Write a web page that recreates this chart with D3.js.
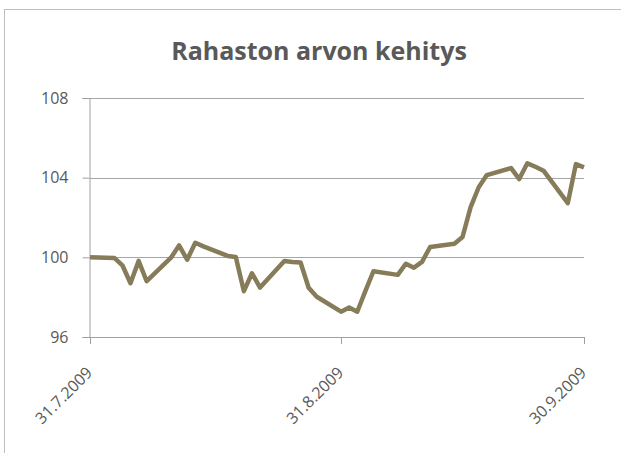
<!DOCTYPE html>
<html>
<head>
<meta charset="utf-8">
<script src="https://cdn.jsdelivr.net/npm/d3@7"></script>
<style>
    body { margin: 0; background: #fff; }
    svg { display: block; font-family: "Open Sans", "Noto Sans", sans-serif; }
</style>
</head>
<body>
<div id="chart"></div>
<script>
// Values (business days, fund value index)
let dates = ['31.7.2009', '3.8.2009', '4.8.2009', '5.8.2009', '6.8.2009', '7.8.2009',
    '10.8.2009', '11.8.2009', '12.8.2009', '13.8.2009', '14.8.2009', '17.8.2009',
    '18.8.2009', '19.8.2009', '20.8.2009', '21.8.2009', '24.8.2009', '25.8.2009',
    '26.8.2009', '27.8.2009', '28.8.2009', '31.8.2009', '1.9.2009', '2.9.2009',
    '3.9.2009', '4.9.2009', '7.9.2009', '8.9.2009', '9.9.2009', '10.9.2009',
    '11.9.2009', '14.9.2009', '15.9.2009', '16.9.2009', '17.9.2009', '18.9.2009',
    '21.9.2009', '22.9.2009', '23.9.2009', '24.9.2009', '25.9.2009', '28.9.2009',
    '29.9.2009', '30.9.2009'];
let values = [100.00, 99.97, 99.6, 98.7, 99.82, 98.8,
    99.98, 100.6, 99.88, 100.73, 100.55, 100.07,
    100.02, 98.3, 99.2, 98.48, 99.82, 99.77,
    99.74, 98.47, 98.02, 97.27, 97.48, 97.27,
    98.3, 99.3, 99.12, 99.68, 99.48, 99.77,
    100.52, 100.68, 101.02, 102.52, 103.52, 104.13,
    104.48, 103.93, 104.72, 104.55, 104.35, 102.72,
    104.68, 104.52];
let yTicks = [96, 100, 104, 108];
let xTickLabels = ['31.7.2009', '31.8.2009', '30.9.2009'];
let title = 'Rahaston arvon kehitys';

let parseDate = d3.timeParse('%d.%m.%Y');

let margin = { top: 98, right: 36, bottom: 116, left: 90 };
let width = 621 - margin.left - margin.right;   // 495
let height = 453 - margin.top - margin.bottom;  // 239

let root = d3.select('#chart')
    .append('svg')
    .attr('width', 621)
    .attr('height', 453);

// chart frame
root.append('rect')
    .attr('x', 4.5)
    .attr('y', 9.5)
    .attr('width', 640)
    .attr('height', 470)
    .style('fill', '#fff')
    .style('stroke', '#bfbfbf')
    .style('stroke-width', 1);

root.append('text')
    .text(title)
    .attr('x', 319)
    .attr('y', 60)
    .attr('text-anchor', 'middle')
    .style('font-size', '25px')
    .style('font-weight', 'bold')
    .style('fill', '#595959');

let svg = root.append('g')
    .attr('transform', `translate(${margin.left}, ${margin.top})`);

let data = dates.map((d, i) => ({ date: parseDate(d), value: values[i] }));

let x = d3.scaleTime()
    .domain(d3.extent(xTickLabels, d => parseDate(d)))
    .range([0, width - 1]);

let y = d3.scaleLinear()
    .domain([96, 108])
    .range([height, 0]);

// gridlines
svg.selectAll('.grid')
    .data(yTicks.slice(1))
    .enter()
    .append('line')
    .attr('class', 'grid')
    .attr('x1', 0)
    .attr('x2', width - 1)
    .attr('y1', d => Math.round(y(d)) + 0.5)
    .attr('y2', d => Math.round(y(d)) + 0.5)
    .style('stroke', '#a6a6a6')
    .style('stroke-width', 1);

// y axis
let yAxis = svg.append('g')
    .attr('transform', 'translate(-0.5, 0)')
    .call(d3.axisLeft(y).tickValues(yTicks).tickSize(7).tickPadding(14).tickFormat(d3.format('d')));

// x axis
let xAxis = svg.append('g')
    .attr('transform', `translate(0, ${height})`)
    .call(d3.axisBottom(x)
        .tickValues(xTickLabels.map(d => parseDate(d)))
        .tickSize(7)
        .tickFormat(d3.timeFormat('%-d.%-m.%Y')));

xAxis.selectAll('text')
    .attr('text-anchor', 'end')
    .attr('x', -24)
    .attr('y', 28)
    .attr('dy', 0)
    .attr('transform', 'rotate(-45)');

[yAxis, xAxis].forEach(a => {
    a.select('.domain').style('stroke', '#a0a0a0');
    a.selectAll('.tick line').style('stroke', '#a0a0a0');
    a.selectAll('text')
        .style('font-family', '"Open Sans", "Noto Sans", sans-serif')
        .style('font-size', '16px')
        .style('fill', '#595959');
});

// the value line
let line = d3.line()
    .x(d => x(d.date))
    .y(d => y(d.value));

svg.append('path')
    .datum(data)
    .attr('d', line)
    .style('fill', 'none')
    .style('stroke', '#877c5a')
    .style('stroke-width', 4.5)
    .style('stroke-linejoin', 'round');
</script>
</body>
</html>
